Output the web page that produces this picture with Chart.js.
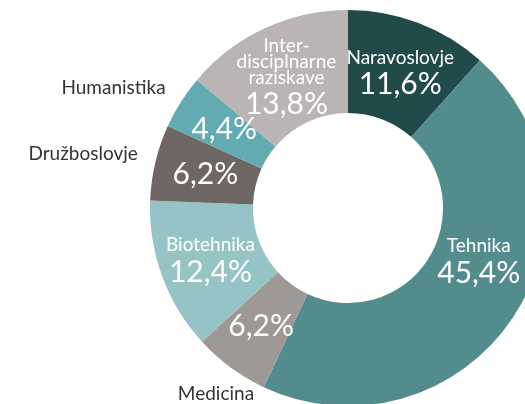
<!DOCTYPE html>
<html>
<head>
<meta charset="utf-8">
<script src="https://cdn.jsdelivr.net/npm/chart.js@4/dist/chart.umd.min.js"></script>
<style>
  html, body { margin: 0; padding: 0; background: #fff; overflow: hidden; }
  #wrap { position: relative; width: 525px; height: 404px; overflow: hidden; }
  #chart { position: absolute; left: 0; top: 0; }
</style>
</head>
<body>
<div id="wrap"><canvas id="chart" width="546" height="406"></canvas></div>
<script>
// data, clockwise from 12 o'clock
const categories = ['Naravoslovje', 'Tehnika', 'Medicina', 'Biotehnika', 'Družboslovje', 'Humanistika', ['Inter-', 'disciplnarne', 'raziskave']];
const shares = [11.6, 45.4, 6.2, 12.4, 6.2, 4.4, 13.8];
const sliceColors = ['#214a4a', '#528c8c', '#9e9896', '#96c4c6', '#6d6664', '#62abb0', '#bab5b4'];

const FONT = 'Lato, "Open Sans", sans-serif';

// small slices get their name outside the ring
const outsideLimit = 7;
// hand nudge for the big slice label (degrees, px)
const nudge = { 1: { angle: -12, r: -6 } };

function fmt(v) {
  return v.toFixed(1).replace('.', ',') + '%';
}

const labelPlugin = {
  id: 'sliceLabels',
  afterDatasetsDraw(chart) {
    const ctx = chart.ctx;
    const meta = chart.getDatasetMeta(0);
    ctx.save();
    meta.data.forEach((arc, i) => {
      const p = arc.getProps(['x', 'y', 'startAngle', 'endAngle', 'innerRadius', 'outerRadius'], true);
      const n = nudge[i] || { angle: 0, r: 0 };
      const mid = (p.startAngle + p.endAngle) / 2 + n.angle * Math.PI / 180;
      const r = (p.innerRadius + p.outerRadius) / 2 + n.r;
      const cx = p.x + Math.cos(mid) * r;
      const cy = p.y + Math.sin(mid) * r;
      const val = shares[i];
      const name = [].concat(categories[i]);
      ctx.textAlign = 'center';
      ctx.textBaseline = 'middle';
      ctx.fillStyle = '#ffffff';

      if (val < outsideLimit) {
        // percent inside, name outside
        ctx.font = '400 30px ' + FONT;
        ctx.fillText(fmt(val), cx, cy);
        const ro = p.outerRadius + 18;
        const mida = (p.startAngle + p.endAngle) / 2;
        const ox = p.x + Math.cos(mida) * ro;
        const oy = p.y + Math.sin(mida) * ro;
        ctx.fillStyle = '#333333';
        ctx.font = '400 19px ' + FONT;
        if (Math.sin(mida) > 0.7) {
          ctx.textAlign = 'center';
          ctx.textBaseline = 'top';
          ctx.fillText(name.join(' '), ox - 4, oy + 2);
        } else {
          ctx.textAlign = Math.cos(mida) < 0 ? 'right' : 'left';
          ctx.fillText(name.join(' '), ox, oy - 4);
        }
        return;
      }

      const lh = 16;
      const gap = 27;
      const h = lh * (name.length - 1) + gap;
      let y = cy - h / 2;
      ctx.font = '400 19px ' + FONT;
      name.forEach((line, k) => {
        ctx.fillText(line, cx, y + k * lh);
      });
      ctx.font = '400 30px ' + FONT;
      ctx.fillText(fmt(val), cx, y + lh * (name.length - 1) + gap);
    });
    ctx.restore();
  }
};

new Chart(document.getElementById('chart'), {
  type: 'doughnut',
  data: {
    labels: categories,
    datasets: [{
      data: shares,
      backgroundColor: sliceColors,
      borderWidth: 0
    }]
  },
  options: {
    responsive: false,
    animation: false,
    cutout: '48%',
    layout: { padding: { left: 150, top: 10, right: 0, bottom: 0 } },
    plugins: {
      legend: { display: false },
      tooltip: { enabled: false }
    }
  },
  plugins: [labelPlugin]
});
</script>
</body>
</html>
